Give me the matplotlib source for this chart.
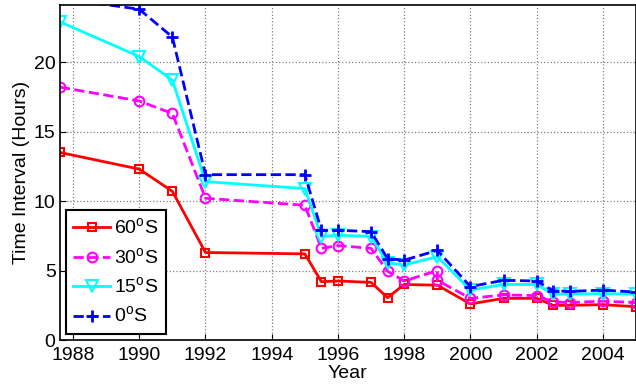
import matplotlib
matplotlib.use('Agg')
import matplotlib.pyplot as plt

plt.rcParams['font.family'] = ['Liberation Sans', 'DejaVu Sans']
plt.rcParams['mathtext.fontset'] = 'custom'
plt.rcParams['mathtext.rm'] = 'Liberation Sans'

# Years of each sample (1987.6 is the left edge of the plot)
years = [1987.6, 1990, 1991, 1992, 1995, 1995.5, 1996, 1997, 1997.5, 1998,
         1999, 2000, 2001, 2002, 2002.5, 2003, 2004, 2005]
years_30 = [1987.6, 1990, 1991, 1992, 1995, 1995.5, 1996, 1997, 1997.5, 1998,
            1999, 1999, 2000, 2001, 2002, 2002.5, 2003, 2004, 2005]

lat60 = [13.5, 12.3, 10.7, 6.3, 6.2, 4.2, 4.25, 4.15, 3.05, 4.0,
         3.95, 2.6, 3.0, 3.0, 2.5, 2.5, 2.55, 2.4]
lat30 = [18.2, 17.2, 16.3, 10.2, 9.7, 6.6, 6.8, 6.6, 4.95, 4.25,
         5.0, 4.3, 3.0, 3.25, 3.2, 2.75, 2.7, 2.8, 2.7]
lat15 = [22.9, 20.4, 18.7, 11.4, 10.9, 7.45, 7.55, 7.45, 5.55, 5.4,
         6.0, 3.6, 4.0, 4.0, 3.3, 3.3, 3.35, 3.3]
lat0 = [24.6, 23.8, 21.8, 11.9, 11.9, 7.9, 7.9, 7.8, 5.85, 5.75,
        6.45, 3.85, 4.3, 4.25, 3.55, 3.5, 3.6, 3.45]

labels = [r'60$^\mathrm{o}$S', r'30$^\mathrm{o}$S', r'15$^\mathrm{o}$S', r'0$^\mathrm{o}$S']

fig = plt.figure(figsize=(6.36, 3.9), dpi=100)
ax = fig.add_axes([0.094, 0.128, 0.906, 0.859])

ax.plot(years, lat60, '-', color='red', lw=2, marker='s', ms=6,
        mfc='none', mew=1.5, label=labels[0])
ax.plot(years_30, lat30, '--', color='magenta', lw=2, marker='o', ms=7,
        mfc='none', mew=1.5, label=labels[1])
ax.plot(years, lat15, '-', color='cyan', lw=2, marker='v', ms=8,
        mfc='none', mew=1.5, label=labels[2])
ax.plot(years, lat0, '--', color='blue', lw=2, marker='+', ms=8,
        mew=2, label=labels[3])

ax.set_xlim(1987.6, 2005)
ax.set_ylim(0, 24.1)
ax.set_xticks(range(1988, 2005, 2))
ax.set_yticks([0, 5, 10, 15, 20])
ax.tick_params(direction='in', labelsize=14, length=4)
ax.tick_params(axis='x', pad=5)
ax.tick_params(axis='y', pad=3)
ax.grid(True, linestyle=':', color='gray', lw=0.9)
for s in ax.spines.values():
    s.set_linewidth(1.2)

ax.set_xlabel('Year', fontsize=14, labelpad=1)
ax.set_ylabel('Time Interval (Hours)', fontsize=14, labelpad=3)

leg = ax.legend(loc='lower left', fontsize=14, fancybox=False, framealpha=1,
                edgecolor='black', handlelength=1.9, borderaxespad=0.3,
                handletextpad=0.2, labelspacing=0.45, borderpad=0.4)
leg.get_frame().set_linewidth(1.5)

fig.savefig('out.png', dpi=100)
